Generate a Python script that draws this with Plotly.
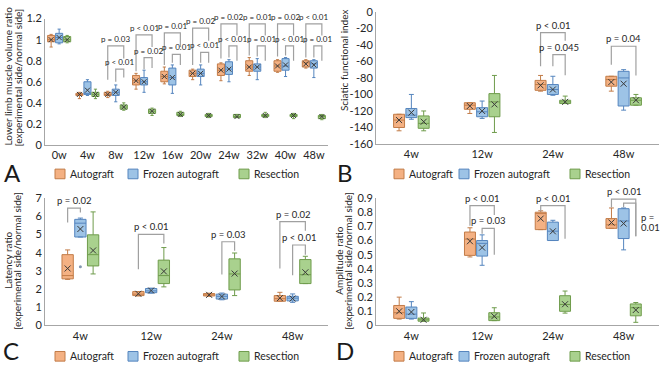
import plotly.graph_objects as go

W, H = 662, 371
FONT = "Lato"
TXT = "#262626"

# ---------------- data ----------------
GROUPS = ["Autograft", "Frozen autograft", "Resection"]
A_WEEKS = ["0w", "4w", "8w", "12w", "16w", "20w", "24w", "32w", "40w", "48w"]
BCD_WEEKS = ["4w", "12w", "24w", "48w"]

# each entry: (lower whisker, q1, median, q3, upper whisker, mean)
A_AUTOGRAFT = [(0.93, 0.98, 1.00, 1.04, 1.05, 1.00), (0.44, 0.47, 0.48, 0.49, 0.50, 0.48),
               (0.45, 0.47, 0.48, 0.50, 0.51, 0.48), (0.53, 0.57, 0.61, 0.66, 0.68, 0.61),
               (0.58, 0.60, 0.65, 0.70, 0.74, 0.65), (0.62, 0.65, 0.68, 0.71, 0.72, 0.68),
               (0.61, 0.66, 0.71, 0.77, 0.78, 0.71), (0.66, 0.70, 0.74, 0.80, 0.83, 0.74),
               (0.69, 0.70, 0.75, 0.80, 0.81, 0.75), (0.73, 0.74, 0.78, 0.80, 0.81, 0.77)]
A_FROZEN = [(0.96, 0.97, 1.02, 1.06, 1.10, 1.02), (0.47, 0.48, 0.49, 0.60, 0.62, 0.52),
            (0.41, 0.47, 0.50, 0.53, 0.57, 0.50), (0.50, 0.57, 0.60, 0.64, 0.71, 0.60),
            (0.49, 0.57, 0.64, 0.73, 0.76, 0.64), (0.57, 0.65, 0.68, 0.72, 0.76, 0.68),
            (0.60, 0.67, 0.72, 0.79, 0.81, 0.72), (0.62, 0.70, 0.74, 0.77, 0.82, 0.74),
            (0.65, 0.71, 0.75, 0.82, 0.83, 0.76), (0.64, 0.73, 0.77, 0.80, 0.81, 0.76)]
A_RESECTION = [(0.97, 0.98, 1.00, 1.03, 1.04, 1.00), (0.44, 0.46, 0.48, 0.50, 0.53, 0.48),
               (0.33, 0.34, 0.36, 0.38, 0.40, 0.36), (0.28, 0.30, 0.32, 0.34, 0.35, 0.32),
               (0.27, 0.28, 0.29, 0.31, 0.32, 0.29), (0.26, 0.27, 0.28, 0.29, 0.30, 0.28),
               (0.26, 0.26, 0.27, 0.29, 0.29, 0.27), (0.26, 0.27, 0.28, 0.29, 0.31, 0.28),
               (0.25, 0.27, 0.28, 0.29, 0.30, 0.28), (0.24, 0.25, 0.27, 0.28, 0.29, 0.27)]

B_AUTOGRAFT = [(-144, -140, -131, -124, -124, -131), (-123, -118, -113, -110, -110, -114),
               (-96, -95, -88, -83, -77, -89), (-96, -90, -82, -78, -78, -85)]
B_FROZEN = [(-130, -128, -125, -117, -100, -122), (-129, -127, -121, -116, -108, -120),
            (-101, -100, -94, -88, -78, -94), (-119, -114, -80, -72, -70, -87)]
B_RESECTION = [(-144, -141, -135, -126, -120, -133), (-146, -127, -109, -99, -77, -112),
               (-111, -111, -109, -107, -102, -109), (-113, -113, -107, -104, -100, -107)]

C_AUTOGRAFT = [(2.53, 2.56, 2.74, 3.89, 4.15, 3.13), (1.62, 1.64, 1.72, 1.86, 1.86, 1.74),
               (1.60, 1.62, 1.68, 1.75, 1.77, 1.68), (1.33, 1.33, 1.47, 1.64, 1.82, 1.50)]
C_FROZEN = [(4.86, 4.86, 5.62, 5.83, 5.90, 5.30), (1.77, 1.80, 1.90, 2.03, 2.05, 1.92),
            (1.41, 1.45, 1.60, 1.72, 1.78, 1.59), (1.27, 1.35, 1.50, 1.60, 1.73, 1.48)]
C_RESECTION = [(2.83, 3.27, 3.89, 4.98, 6.24, 4.12), (2.12, 2.30, 2.74, 3.59, 4.28, 2.97),
               (1.64, 1.95, 2.83, 3.66, 3.98, 2.85), (2.30, 2.30, 2.79, 3.62, 3.80, 2.92)]
C_OUTLIERS = [(0, 1, 3.23)]  # (week index, group index, value)

D_AUTOGRAFT = [(0.045, 0.05, 0.09, 0.141, 0.20, 0.10), (0.484, 0.495, 0.61, 0.66, 0.69, 0.595),
               (0.677, 0.677, 0.79, 0.80, 0.81, 0.755), (0.686, 0.686, 0.711, 0.755, 0.83, 0.727)]
D_FROZEN = [(0.045, 0.05, 0.08, 0.13, 0.168, 0.095), (0.425, 0.49, 0.58, 0.60, 0.64, 0.55),
            (0.60, 0.60, 0.666, 0.73, 0.743, 0.665), (0.534, 0.614, 0.738, 0.825, 0.83, 0.72)]
D_RESECTION = [(0.03, 0.03, 0.04, 0.052, 0.088, 0.04), (0.034, 0.034, 0.06, 0.09, 0.125, 0.065),
               (0.087, 0.10, 0.148, 0.21, 0.243, 0.15), (0.022, 0.068, 0.125, 0.152, 0.162, 0.109)]

# significance brackets: (week idx, group from, group to, bracket level, leg1 end, leg2 end, label)
A_BRACKETS = [(2, 0, 2, 0.94, 0.62, 0.82, "p = 0.03"), (3, 0, 2, 1.045, 0.70, 0.93, "p < 0.01"),
              (4, 0, 2, 1.065, 0.76, 0.93, "p = 0.01"), (5, 0, 2, 1.11, 0.76, 0.99, "p = 0.02"),
              (6, 0, 2, 1.15, 0.82, 1.04, "p = 0.02"), (7, 0, 2, 1.15, 0.85, 1.04, "p = 0.01"),
              (8, 0, 2, 1.15, 0.84, 1.04, "p = 0.02"), (9, 0, 2, 1.15, 0.83, 1.04, "p < 0.01"),
              (2, 1, 2, 0.72, 0.60, 0.64, "p < 0.01"), (3, 1, 2, 0.83, 0.72, 0.73, "p = 0.02"),
              (4, 1, 2, 0.86, 0.78, 0.76, "p = 0.01"), (5, 1, 2, 0.88, 0.78, 0.78, "p < 0.01"),
              (6, 1, 2, 0.94, 0.83, 0.80, "p < 0.01"), (7, 1, 2, 0.94, 0.84, 0.80, "p = 0.01"),
              (8, 1, 2, 0.94, 0.85, 0.80, "p < 0.01"), (9, 1, 2, 0.94, 0.83, 0.80, "p = 0.01")]
B_BRACKETS = [(2, 0, 2, -25.3, -66, -35, "p < 0.01"), (2, 1, 2, -51.8, -66, -76.7, "p = 0.045"),
              (3, 0, 2, -41.7, -64, -77, "p = 0.04")]
C_BRACKETS = [(0, 0, 1, 6.45, 5.66, 6.2, "p = 0.02"), (1, 0, 2, 5.0, 3.09, 4.5, "p < 0.01"),
              (2, 1, 2, 4.6, 2.8, 4.1, "p = 0.03"), (3, 0, 2, 5.71, 3.13, 5.2, "p = 0.02"),
              (3, 1, 2, 4.42, 2.76, 3.89, "p < 0.01")]
D_BRACKETS = [(1, 0, 2, 0.847, 0.705, 0.78, "p < 0.01"), (1, 1, 2, 0.686, 0.648, 0.50, "p = 0.03"),
              (2, 0, 2, 0.847, 0.806, 0.613, "p < 0.01"), (3, 0, 2, 0.893, 0.834, 0.63, "p < 0.01"),
              (3, 1, 2, 0.864, 0.835, 0.63, "")]
# label written beside the last D bracket, split over two lines
D_SIDE_LABEL = [("p =", 0.763), ("0.01", 0.695)]

A_YTICKS = [0, 0.2, 0.4, 0.6, 0.8, 1, 1.2]
B_YTICKS = [0, -20, -40, -60, -80, -100, -120, -140, -160]
C_YTICKS = [0, 1, 2, 3, 4, 5, 6, 7]
D_YTICKS = [0, 0.1, 0.2, 0.3, 0.4, 0.5, 0.6, 0.7, 0.8, 0.9]

# ---------------- style ----------------
FILL = ["#F4B183", "#9DC3E6", "#A9D18E"]
EDGE = ["#C27C48", "#5585BE", "#6F9C4C"]
AXIS = "#A6A6A6"
BRK = "#A0A0A0"


def pxx(p):
    return p / W


def pxy(p):
    return 1 - p / H


panels = [
    dict(n="", cats=A_WEEKS, data=[A_AUTOGRAFT, A_FROZEN, A_RESECTION], brackets=A_BRACKETS,
         xpx=(45, 328), ypx=(143, 12), yr=[0, 1.2], yt=A_YTICKS, step=0.283, bw=0.25, pfont=8,
         msize=5, letter="A", lpos=(12, 172), legx=[55, 128, 239], legy=173,
         titles=[("Lower limb muscle volume ratio", 8, 72), ("[experimental side/normal side]", 18, 73)]),
    dict(n="2", cats=BCD_WEEKS, data=[B_AUTOGRAFT, B_FROZEN, B_RESECTION], brackets=B_BRACKETS,
         xpx=(376, 659), ypx=(142, 5), yr=[-160, 0], yt=B_YTICKS, step=0.174, bw=0.155, pfont=9.5,
         msize=6, letter="B", lpos=(345, 172), legx=[394, 459, 570], legy=173,
         titles=[("Sciatic functional index", 344, 55)]),
    dict(n="3", cats=BCD_WEEKS, data=[C_AUTOGRAFT, C_FROZEN, C_RESECTION], brackets=C_BRACKETS,
         xpx=(45, 328), ypx=(330, 198), yr=[0, 7], yt=C_YTICKS, step=0.18, bw=0.16, pfont=9.5,
         msize=6, letter="C", lpos=(11, 356), legx=[55, 128, 239], legy=362,
         titles=[("Latency ratio", 8, 263), ("[experimental side/normal side]", 17, 263)]),
    dict(n="4", cats=BCD_WEEKS, data=[D_AUTOGRAFT, D_FROZEN, D_RESECTION], brackets=D_BRACKETS,
         xpx=(376, 659), ypx=(330, 198), yr=[0, 0.9], yt=D_YTICKS, step=0.172, bw=0.155, pfont=9.5,
         msize=6, letter="D", lpos=(345, 356), legx=[394, 459, 570], legy=362,
         titles=[("Amplitude ratio", 339, 263), ("[experimental side/normal side]", 348, 263)]),
]

fig = go.Figure()
annotations = []
shapes = []
layout_axes = {}

for p in panels:
    xa, ya = "x" + p["n"], "y" + p["n"]
    ncat = len(p["cats"])
    step = p["step"]

    def xpos(cat, g, step=step):
        return cat + (g - 1) * step

    for g, series in enumerate(p["data"]):
        xs = [xpos(i, g) for i in range(len(series))]
        fig.add_trace(go.Box(
            x=xs, lowerfence=[s[0] for s in series], q1=[s[1] for s in series],
            median=[s[2] for s in series], q3=[s[3] for s in series],
            upperfence=[s[4] for s in series], orientation="v",
            width=p["bw"], fillcolor=FILL[g], line=dict(color=EDGE[g], width=1),
            whiskerwidth=0.45, boxpoints=False, showlegend=False, name=GROUPS[g],
            xaxis=xa, yaxis=ya, hoverinfo="skip"))
        fig.add_trace(go.Scatter(
            x=xs, y=[s[5] for s in series], mode="markers", showlegend=False,
            marker=dict(symbol="x-thin", size=p["msize"], line=dict(color="#3A3A3A", width=1)),
            xaxis=xa, yaxis=ya, hoverinfo="skip"))

    if p["letter"] == "C":
        fig.add_trace(go.Scatter(
            x=[xpos(o[0], o[1]) for o in C_OUTLIERS], y=[o[2] for o in C_OUTLIERS],
            mode="markers", marker=dict(size=3, color="#8497B0"), showlegend=False,
            xaxis=xa, yaxis=ya, hoverinfo="skip"))

    # brackets
    bx, by = [], []
    for (cat, g1, g2, lvl, e1, e2, lab) in p["brackets"]:
        x1, x2 = xpos(cat, g1), xpos(cat, g2)
        bx += [x1, x1, x2, x2, None]
        by += [e1, lvl, lvl, e2, None]
        if lab:
            annotations.append(dict(x=(x1 + x2) / 2, y=lvl, xref=xa, yref=ya, text=lab,
                                    showarrow=False, xanchor="center", yanchor="bottom",
                                    font=dict(family=FONT, size=p["pfont"], color=TXT)))
    fig.add_trace(go.Scatter(x=bx, y=by, mode="lines", line=dict(color=BRK, width=1.2),
                             showlegend=False, xaxis=xa, yaxis=ya, hoverinfo="skip"))

    if p["letter"] == "D":
        for (t, yv) in D_SIDE_LABEL:
            annotations.append(dict(x=pxx(640), y=yv, xref="paper", yref=ya, text=t,
                                    showarrow=False, xanchor="left", yanchor="middle",
                                    borderpad=0, font=dict(family=FONT, size=9.5, color=TXT)))

    # axes
    axk = "xaxis" + p["n"]
    ayk = "yaxis" + p["n"]
    layout_axes[axk] = dict(
        domain=[pxx(p["xpx"][0]), pxx(p["xpx"][1])], range=[-0.5, ncat - 0.5],
        tickvals=list(range(ncat)), ticktext=p["cats"], anchor=ya, showline=True,
        linecolor=AXIS, linewidth=1, showgrid=False, zeroline=False, ticks="",
        tickfont=dict(family=FONT, size=11, color=TXT), fixedrange=True)
    layout_axes[ayk] = dict(
        domain=[pxy(p["ypx"][0]), pxy(p["ypx"][1])], range=p["yr"],
        tickvals=p["yt"], ticktext=[f"{v:g}" for v in p["yt"]], anchor=xa, showline=True,
        linecolor=AXIS, linewidth=1, showgrid=False, zeroline=False, ticks="",
        tickfont=dict(family=FONT, size=11, color=TXT), fixedrange=True)

    # axis titles
    for (t, tx, ty) in p["titles"]:
        annotations.append(dict(x=pxx(tx), y=pxy(ty), xref="paper", yref="paper", text=t,
                                textangle=-90, showarrow=False, xanchor="center", yanchor="middle",
                                font=dict(family=FONT, size=10, color=TXT)))

    # panel letter
    annotations.append(dict(x=pxx(p["lpos"][0]), y=pxy(p["lpos"][1]), xref="paper", yref="paper",
                            text=p["letter"], showarrow=False, xanchor="center", yanchor="middle",
                            borderpad=0, font=dict(family=FONT, size=24, color="#1A1A1A")))

    # legend row
    for g in range(3):
        x0 = p["legx"][g]
        yc = p["legy"]
        shapes.append(dict(type="rect", xref="paper", yref="paper",
                           x0=pxx(x0), x1=pxx(x0 + 10), y0=pxy(yc + 5), y1=pxy(yc - 5),
                           fillcolor=FILL[g], line=dict(color=EDGE[g], width=1)))
        annotations.append(dict(x=pxx(x0 + 14), y=pxy(yc), xref="paper", yref="paper",
                                text=GROUPS[g], showarrow=False, xanchor="left", yanchor="middle",
                                borderpad=0, font=dict(family=FONT, size=10.5, color=TXT)))

fig.update_layout(
    width=W, height=H, autosize=False,
    margin=dict(l=0, r=0, t=0, b=0),
    paper_bgcolor="white", plot_bgcolor="white",
    showlegend=False, annotations=annotations, shapes=shapes,
    **layout_axes)

# remove the default page margin so the 662x371 figure fills the window exactly
fig.write_html("out.html",
               config={"displayModeBar": False, "staticPlot": True},
               post_script="document.body.style.margin='0';document.body.style.padding='0';")
